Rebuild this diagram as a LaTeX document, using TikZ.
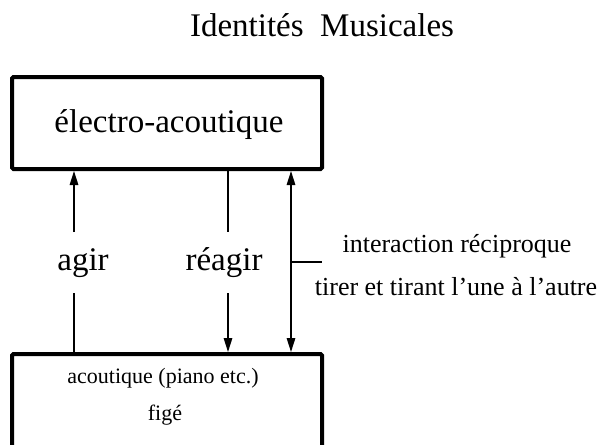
\documentclass[tikz,border=0pt]{standalone}
\usepackage{fontspec}
\setmainfont{Liberation Serif}
\usetikzlibrary{arrows.meta}
\begin{document}
\begin{tikzpicture}[x=1pt,y=-1pt,
  box/.style={draw, line width=4pt, rounded corners=1.5pt, inner sep=0pt},
  link/.style={line width=1.5pt},
  arr/.style={link, -{Triangle[length=14pt,width=8.5pt]}},
  dblarr/.style={link, {Triangle[length=14pt,width=8.5pt]}-{Triangle[length=14pt,width=8.5pt]}},
  big/.style={font=\fontsize{33}{38}\selectfont, inner sep=0pt, anchor=base},
  mid/.style={font=\fontsize{26}{30}\selectfont, inner sep=0pt, anchor=base},
  small/.style={font=\fontsize{22}{26}\selectfont, inner sep=0pt, anchor=base}]
\useasboundingbox (0,0) rectangle (601,444);
\clip (0,0) rectangle (601,444);

% title
\node[big] (title) at (322,37) {Identités\ \ Musicales};

% the two blocks
\node[box, minimum width=310pt, minimum height=92pt] (top) at (167,123) {};
\node[big] (toplabel) at (169,132) {électro-acoutique};
\node[box, minimum width=310pt, minimum height=116pt] (bottom) at (167,412) {};
\node[small] (bl1) at (163,383) {acoutique (piano etc.)};
\node[small] (bl2) at (165,420) {figé};

% labels between the blocks
\node[big] (agir) at (83,270) {agir};
\node[big] (reagir) at (224,270) {réagir};
\node[mid] (inter) at (457,252) {interaction réciproque};
\node[mid] (tirer) at (456,295) {tirer et tirant l’une à l’autre};

% connector end points around the labels
\coordinate (agirU) at (74,232);
\coordinate (agirD) at (74,293);
\coordinate (reagirU) at (228,232);
\coordinate (reagirD) at (228,293);
\coordinate (mutual) at (291,0);
\coordinate (tick) at (291,262);
\coordinate (tickEnd) at (322,262);

% agir: upward
\draw[arr] (agirU) -- (agirU |- top.south);
\draw[link] (agirD) -- (agirD |- bottom.north);
% réagir: downward
\draw[link] (reagirU |- top.south) -- (reagirU);
\draw[arr] (reagirD) -- (reagirD |- bottom.north);
% reciprocal interaction
\draw[dblarr] (mutual |- top.south) -- (mutual |- bottom.north);
\draw[link] (tick) -- (tickEnd);
\end{tikzpicture}
\end{document}
